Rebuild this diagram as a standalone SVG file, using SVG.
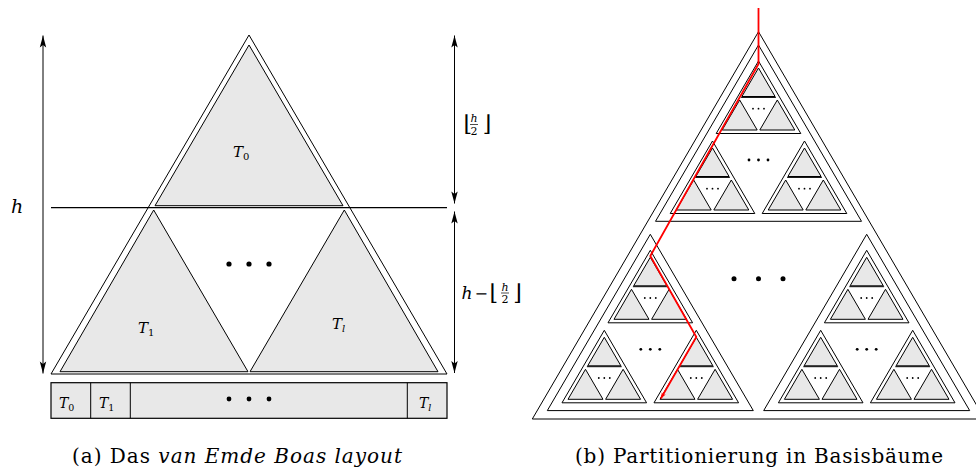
<svg xmlns="http://www.w3.org/2000/svg" width="976" height="473" viewBox="0 0 976 473">
<style>
  .o{fill:none;stroke:#000;stroke-width:1}
  .g{fill:#e8e8e8;stroke:#000;stroke-width:1}
  .hl{fill:none;stroke:#000;stroke-width:1.2}
  .t{font-family:'DejaVu Serif',serif;fill:#000}
  .it{font-style:italic}
  .rm{font-style:normal}
  .arr{fill:none;stroke:#000;stroke-width:1;marker-start:url(#ah);marker-end:url(#ah)}
  .red{fill:none;stroke:#f00;stroke-width:1.8;stroke-linejoin:round;marker-end:url(#rh)}
</style>
<defs>
  <marker id="ah" viewBox="-13 -4 14 8" refX="0" refY="0" markerWidth="14" markerHeight="8" markerUnits="userSpaceOnUse" orient="auto-start-reverse">
    <path d="M0,0 L-12,-3.2 L-9.5,0 L-12,3.2 Z" fill="#000"/>
  </marker>
  <marker id="rh" viewBox="-7 -3 8 6" refX="0" refY="0" markerWidth="8" markerHeight="6" markerUnits="userSpaceOnUse" orient="auto">
    <path d="M0,0 L-6,-2.2 L-4.5,0 L-6,2.2 Z" fill="#f00"/>
  </marker>
  <g id="u2">
    <polygon class="o" points="0,0 -42.3,72.5 42.3,72.5"/>
    <polygon class="g" points="0,7 -16.6,35.5 16.6,35.5"/>
    <line class="o" x1="-17.4" y1="36.4" x2="17.4" y2="36.4"/>
    <polygon class="g" points="-18.8,39 -36.3,69 -1.3,69"/>
    <polygon class="g" points="18.8,39 1.3,69 36.3,69"/>
    <circle cx="-5.5" cy="47.7" r="0.9"/>
    <circle cx="0" cy="47.7" r="0.9"/>
    <circle cx="5.5" cy="47.7" r="0.9"/>
  </g>
  <g id="u1">
    <polygon class="o" points="0,0 -103,176.3 103,176.3"/>
    <use href="#u2" x="0" y="16"/>
    <use href="#u2" x="-46" y="96"/>
    <use href="#u2" x="46" y="96"/>
    <circle cx="-9.5" cy="115" r="1.4"/>
    <circle cx="0" cy="115" r="1.4"/>
    <circle cx="9.5" cy="115" r="1.4"/>
  </g>
</defs>

<!-- (a) van Emde Boas layout -->
<g id="tree-a">
  <polygon class="o" points="249,35 51,374 447,374"/>
  <line class="hl" x1="51" y1="207.7" x2="447" y2="207.7"/>
  <circle cx="229" cy="264" r="2.6"/>
  <circle cx="249" cy="264" r="2.6"/>
  <circle cx="269" cy="264" r="2.6"/>
</g>
<g id="T0">
  <polygon class="g" points="249,45 155,205.7 343,205.7"/>
  <text class="t it" x="233" y="157" font-size="15">T<tspan class="rm" font-size="10" dy="3">0</tspan></text>
</g>
<g id="T1">
  <polygon class="g" points="153.7,210 60,371.7 248,371.7"/>
  <text class="t it" x="138" y="332.5" font-size="15">T<tspan class="rm" font-size="10" dy="3">1</tspan></text>
</g>
<g id="Tl">
  <polygon class="g" points="344.3,210 250,371.7 438,371.7"/>
  <text class="t it" x="332" y="328.5" font-size="15">T<tspan font-size="10" dy="3">l</tspan></text>
</g>
<g id="bar">
  <rect x="51" y="382.7" width="396" height="35.6" fill="#e8e8e8" stroke="#000" stroke-width="1.2"/>
  <line class="o" x1="90.7" y1="382.7" x2="90.7" y2="418.3"/>
  <line class="o" x1="130.3" y1="382.7" x2="130.3" y2="418.3"/>
  <line class="o" x1="407.3" y1="382.7" x2="407.3" y2="418.3"/>
  <text class="t it" x="59" y="408" font-size="14">T<tspan class="rm" font-size="9.5" dy="2.5">0</tspan></text>
  <text class="t it" x="99" y="408" font-size="14">T<tspan class="rm" font-size="9.5" dy="2.5">1</tspan></text>
  <text class="t it" x="419" y="408" font-size="14">T<tspan font-size="9.5" dy="2.5">l</tspan></text>
  <circle cx="229" cy="399" r="2.4"/>
  <circle cx="249" cy="399" r="2.4"/>
  <circle cx="269" cy="399" r="2.4"/>
</g>
<g id="labels-a">
  <text class="t it" x="11" y="213" font-size="19">h</text>
  <text class="t" x="463.5" y="131" font-size="22">⌊</text>
  <text class="t it" x="474" y="121.5" font-size="11" text-anchor="middle">h</text>
  <line x1="470" y1="124.5" x2="478" y2="124.5" stroke="#000" stroke-width="0.7"/>
  <text class="t" x="474" y="134.5" font-size="11" text-anchor="middle">2</text>
  <text class="t" x="482.5" y="131" font-size="22">⌋</text>

  <text class="t it" x="461.5" y="298.5" font-size="17">h</text>
  <text class="t" x="474.5" y="298.5" font-size="16">−</text>
  <text class="t" x="489.5" y="300" font-size="22">⌊</text>
  <text class="t it" x="505" y="290.8" font-size="11" text-anchor="middle">h</text>
  <line x1="501" y1="293" x2="509" y2="293" stroke="#000" stroke-width="0.7"/>
  <text class="t" x="505" y="303" font-size="11" text-anchor="middle">2</text>
  <text class="t" x="513" y="300" font-size="22">⌋</text>
</g>

<!-- (b) partition -->
<g id="tree-b">
  <polygon class="o" points="758.5,31.7 532.3,419 984.7,419"/>
  <use href="#u1" x="758.5" y="45"/>
  <use href="#u1" x="650.3" y="234.3"/>
  <use href="#u1" x="866.7" y="234.3"/>
  <circle cx="734" cy="278.7" r="2.5"/>
  <circle cx="758.5" cy="278.7" r="2.5"/>
  <circle cx="783" cy="278.7" r="2.5"/>
</g>

<g id="connectors">
  <path class="arr" d="M43,35.5 V373.5"/>
  <path class="arr" d="M454.5,35.5 V203.5"/>
  <path class="arr" d="M454.5,211.5 V373"/>
  <path class="red" d="M758.5,8 L758.5,64 L650.3,256 L696.3,337 L660.8,398.5"/>
</g>

<g id="captions">
  <text class="t" x="72" y="463" font-size="20" textLength="330" lengthAdjust="spacing">(a) Das <tspan class="it">van Emde Boas layout</tspan></text>
  <text class="t" x="575" y="463" font-size="20" textLength="368" lengthAdjust="spacing">(b) Partitionierung in Basisbäume</text>
</g>
</svg>
